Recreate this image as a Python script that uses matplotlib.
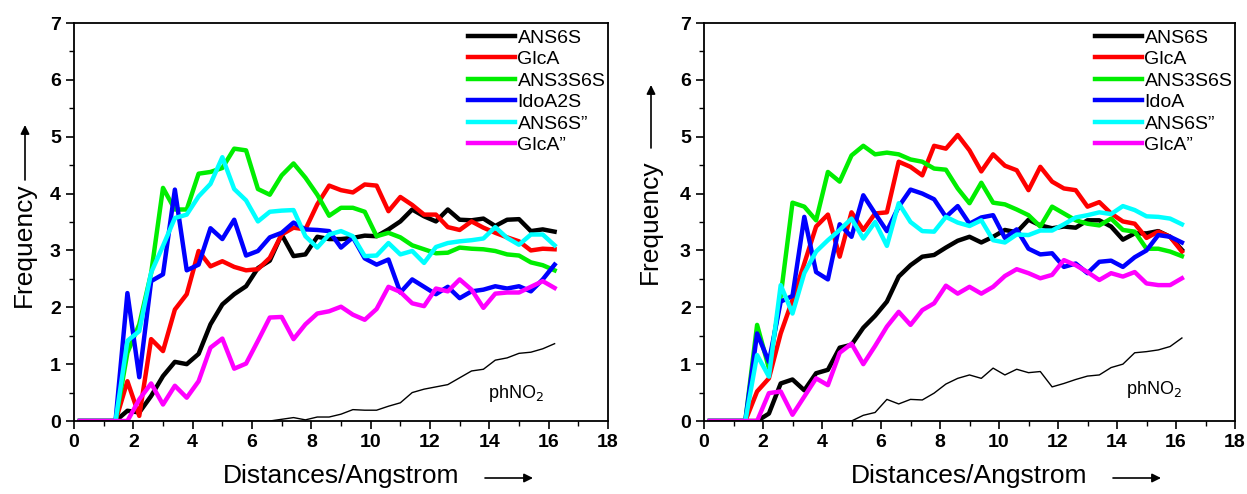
import numpy as np
import matplotlib.pyplot as plt

plt.rcParams['font.family'] = ['Liberation Sans', 'DejaVu Sans']

# distance grid (Angstrom)
dist = np.arange(41) * 0.4 + 0.2

z = [0.0] * 3  # 0.2, 0.6, 1.0

# ---- left panel ----
L_ans6s = z + [0, 0.18, 0.15, 0.44, 0.79, 1.04, 1.0, 1.18, 1.7, 2.05, 2.23, 2.37, 2.69, 2.82, 3.28, 2.9, 2.93,
               3.24, 3.2, 3.2, 3.22, 3.26, 3.25, 3.37, 3.51, 3.72, 3.6, 3.51, 3.72, 3.54, 3.53, 3.56, 3.43,
               3.54, 3.55, 3.34, 3.37, 3.33]
L_glca = z + [0, 0.7, 0.09, 1.44, 1.23, 1.96, 2.23, 2.99, 2.72, 2.81, 2.71, 2.65, 2.67, 2.87, 3.28, 3.4, 3.37,
              3.81, 4.14, 4.06, 4.02, 4.16, 4.14, 3.69, 3.94, 3.8, 3.63, 3.63, 3.41, 3.36, 3.51, 3.4, 3.31,
              3.23, 3.16, 3.0, 3.03, 3.02]
L_ans3s6s = z + [0, 1.2, 1.7, 2.6, 4.1, 3.72, 3.72, 4.35, 4.38, 4.45, 4.79, 4.76, 4.08, 3.98, 4.32, 4.53, 4.28,
                 3.98, 3.61, 3.75, 3.75, 3.68, 3.25, 3.31, 3.23, 3.09, 3.02, 2.95, 2.96, 3.05, 3.03, 3.02, 2.99,
                 2.93, 2.91, 2.79, 2.74, 2.65]
L_idoa2s = z + [0, 2.25, 0.77, 2.46, 2.58, 4.07, 2.65, 2.75, 3.39, 3.2, 3.54, 2.91, 2.99, 3.23, 3.31, 3.49, 3.37,
                3.36, 3.34, 3.05, 3.23, 2.86, 2.75, 2.84, 2.26, 2.49, 2.36, 2.23, 2.36, 2.16, 2.28, 2.31, 2.37,
                2.33, 2.37, 2.28, 2.49, 2.75]
L_ans6s2 = z + [0, 1.41, 1.58, 2.61, 3.08, 3.57, 3.63, 3.95, 4.17, 4.64, 4.08, 3.88, 3.51, 3.68, 3.7, 3.71, 3.25,
                3.05, 3.28, 3.34, 3.25, 2.9, 2.91, 3.13, 2.93, 2.99, 2.78, 3.06, 3.13, 3.16, 3.18, 3.21, 3.41,
                3.22, 3.1, 3.28, 3.28, 3.09]
L_glca2 = z + [0, 0.0, 0.38, 0.66, 0.29, 0.62, 0.41, 0.7, 1.29, 1.45, 0.92, 1.01, 1.41, 1.82, 1.83, 1.44, 1.7,
               1.89, 1.93, 2.01, 1.87, 1.78, 1.97, 2.36, 2.27, 2.07, 2.02, 2.33, 2.28, 2.49, 2.31, 1.99, 2.24,
               2.26, 2.26, 2.36, 2.46, 2.34]
L_phno2 = z + [0, 0, 0, 0, 0, 0, 0, 0, 0, 0, 0, 0, 0, 0, 0.03, 0.06, 0.02,
               0.07, 0.07, 0.12, 0.2, 0.19, 0.19, 0.26, 0.32, 0.5, 0.56, 0.6, 0.64, 0.76, 0.88, 0.91, 1.07,
               1.11, 1.19, 1.21, 1.27, 1.36]

# ---- right panel ----
R_ans6s = z + [0, 0, 0.13, 0.66, 0.73, 0.54, 0.84, 0.9, 1.29, 1.34, 1.64, 1.85, 2.1, 2.54, 2.74, 2.89, 2.92,
               3.05, 3.17, 3.24, 3.14, 3.24, 3.36, 3.32, 3.54, 3.44, 3.39, 3.42, 3.4, 3.53, 3.53, 3.42, 3.19,
               3.3, 3.3, 3.34, 3.24, 3.01]
R_glca = z + [0, 0.52, 0.75, 1.54, 2.13, 2.77, 3.42, 3.63, 2.89, 3.67, 3.36, 3.65, 3.67, 4.56, 4.47, 4.32, 4.84,
              4.79, 5.03, 4.76, 4.39, 4.69, 4.49, 4.41, 4.06, 4.47, 4.21, 4.09, 4.06, 3.77, 3.85, 3.65, 3.51,
              3.47, 3.22, 3.33, 3.24, 2.98]
R_ans3s6s = z + [0, 1.69, 0.93, 2.2, 3.84, 3.77, 3.53, 4.38, 4.21, 4.67, 4.84, 4.69, 4.72, 4.69, 4.6, 4.56, 4.44,
                 4.42, 4.09, 3.83, 4.19, 3.84, 3.81, 3.72, 3.62, 3.42, 3.77, 3.65, 3.53, 3.47, 3.44, 3.56, 3.36,
                 3.33, 3.03, 3.03, 2.98, 2.9]
R_idoa = z + [0, 1.54, 1.04, 2.1, 2.2, 3.59, 2.62, 2.49, 3.46, 3.24, 3.97, 3.65, 3.34, 3.77, 4.07, 4.0, 3.9,
              3.59, 3.78, 3.47, 3.58, 3.62, 3.22, 3.37, 3.03, 2.93, 2.95, 2.71, 2.77, 2.6, 2.8, 2.82, 2.71,
              2.88, 3.0, 3.27, 3.24, 3.14]
R_ans6s2 = z + [0, 1.16, 0.78, 2.39, 1.89, 2.6, 2.98, 3.18, 3.36, 3.56, 3.21, 3.5, 3.08, 3.83, 3.5, 3.34, 3.33,
                3.59, 3.49, 3.43, 3.53, 3.18, 3.14, 3.28, 3.27, 3.35, 3.35, 3.46, 3.58, 3.62, 3.67, 3.64, 3.78,
                3.71, 3.6, 3.59, 3.56, 3.46]
R_glca2 = z + [0, 0, 0.49, 0.52, 0.11, 0.43, 0.75, 0.63, 1.2, 1.36, 1.0, 1.32, 1.66, 1.92, 1.69, 1.95, 2.07,
               2.38, 2.24, 2.36, 2.24, 2.36, 2.55, 2.67, 2.6, 2.51, 2.57, 2.83, 2.74, 2.62, 2.48, 2.6, 2.54,
               2.62, 2.42, 2.39, 2.39, 2.51]
R_phno2 = z + [0, 0, 0, 0, 0, 0, 0, 0, 0, 0, 0.1, 0.15, 0.38, 0.3, 0.38, 0.37, 0.49,
               0.65, 0.75, 0.81, 0.75, 0.93, 0.81, 0.91, 0.85, 0.87, 0.6, 0.66, 0.73, 0.79, 0.81, 0.94, 1.0,
               1.2, 1.22, 1.25, 1.31, 1.46]

colors = ['black', '#ff0000', '#00ee00', '#0000ff', '#00ffff', '#ff00ff']
left_names = ['ANS6S', 'GlcA', 'ANS3S6S', 'IdoA2S', 'ANS6S\u201d', 'GlcA\u201d']
right_names = ['ANS6S', 'GlcA', 'ANS3S6S', 'IdoA', 'ANS6S\u201d', 'GlcA\u201d']

W, H = 1247, 494
fig = plt.figure(figsize=(W / 100, H / 100), dpi=100)
ax1 = fig.add_axes([74 / W, 73 / H, 534 / W, 398 / H])
ax2 = fig.add_axes([704 / W, 73 / H, 531 / W, 398 / H])


def draw(ax, series, names, phno2, ph_xy):
    for s, c, n in zip(series, colors, names):
        ax.plot(dist, s, color=c, lw=3.2, label=n)
    ax.plot(dist, phno2, color='black', lw=1.0)
    ax.text(ph_xy[0], ph_xy[1], 'phNO$_2$', fontsize=13, va='center')
    ax.set_xlim(0, 18)
    ax.set_ylim(0, 7)
    ax.set_xticks(range(0, 19, 2))
    ax.set_xticks(range(1, 18, 2), minor=True)
    ax.set_yticks(range(0, 8))
    ax.set_yticks(np.arange(0.5, 7, 1), minor=True)
    ax.tick_params(which='major', direction='out', length=6, width=1.2, labelsize=14, top=False, right=False)
    ax.tick_params(which='minor', direction='out', length=3.5, width=1.0, top=False, right=False)
    for lab in ax.get_xticklabels() + ax.get_yticklabels():
        lab.set_fontweight('bold')
    for sp in ax.spines.values():
        sp.set_linewidth(1.3)
    ax.legend(loc='upper right', frameon=False, fontsize=14, handlelength=2.4,
              handletextpad=0.15, labelspacing=0.2, borderaxespad=0.0, borderpad=0.0,
              bbox_to_anchor=(0.995, 0.985))


draw(ax1, [L_ans6s, L_glca, L_ans3s6s, L_idoa2s, L_ans6s2, L_glca2], left_names, L_phno2, (13.95, 0.49))
draw(ax2, [R_ans6s, R_glca, R_ans3s6s, R_idoa, R_ans6s2, R_glca2], right_names, R_phno2, (14.3, 0.56))


def arrow(x0, y0, x1, y1):
    fig.add_artist(plt.Annotation('', xy=(x1 / W, 1 - y1 / H), xytext=(x0 / W, 1 - y0 / H),
                                  xycoords='figure fraction',
                                  arrowprops=dict(arrowstyle='-|>', color='black', lw=1.2,
                                                  mutation_scale=13, shrinkA=0, shrinkB=0)))


def labels(xc, ylab_x, ylab_c, arr_top, arr_bot):
    fig.text(xc / W, 1 - 476 / H, 'Distances/Angstrom', fontsize=19, ha='center', va='center')
    arrow(xc + 144, 478, xc + 192, 478)
    fig.text(ylab_x / W, 1 - ylab_c / H, 'Frequency', fontsize=19, rotation=90, ha='center', va='center')
    arrow(ylab_x + 1, arr_bot, ylab_x + 1, arr_top)


labels(341, 24, 245, 125, 180)
labels(969, 650, 222, 85, 148)

fig.savefig('out.png', dpi=100)
